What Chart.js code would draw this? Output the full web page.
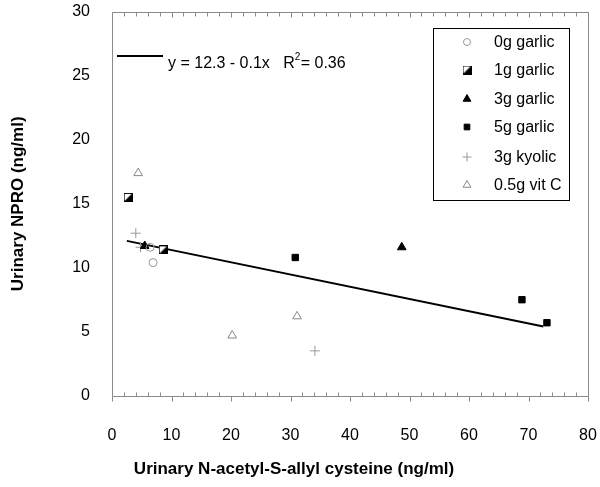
<!DOCTYPE html>
<html>
<head>
<meta charset="utf-8">
<script src="https://cdn.jsdelivr.net/npm/chart.js@4/dist/chart.umd.min.js"></script>
<style>
html,body{margin:0;padding:0;background:#fff;}
#wrap{width:600px;height:487px;position:relative;}
</style>
</head>
<body>
<div id="wrap"><canvas id="c" width="600" height="487"></canvas></div>
<script>
// ---- data ----
const seriesNames = ["0g garlic", "1g garlic", "3g garlic", "5g garlic", "3g kyolic", "0.5g vit C"];
const garlic0 = [[6.4, 11.6], [6.9, 10.4]];
const garlic1 = [[2.7, 15.5], [8.6, 11.4]];
const garlic3 = [[5.5, 11.7], [48.7, 11.6]];
const garlic5 = [[30.8, 10.8], [68.9, 7.5], [73.1, 5.7]];
const kyolic3 = [[4.0, 12.7], [4.8, 11.6], [34.1, 3.5]];
const vitC05 = [[4.4, 17.4], [20.2, 4.7], [31.1, 6.2]];
const fitLine = [[2.5, 12.1], [72.5, 5.4]];
const xTicks = [0, 10, 20, 30, 40, 50, 60, 70, 80];
const yTicks = [0, 5, 10, 15, 20, 25, 30];
const fitLabel = "y = 12.3 - 0.1x   R";
const fitLabel2 = "= 0.36";
const xTitle = "Urinary N-acetyl-S-allyl cysteine (ng/ml)";
const yTitle = "Urinary NPRO (ng/ml)";

const toPts = a => a.map(p => ({x: p[0], y: p[1]}));

// half-filled square marker
function halfSquare(size) {
  const c = document.createElement('canvas');
  c.width = size; c.height = size;
  const g = c.getContext('2d');
  g.fillStyle = '#fff';
  g.fillRect(0, 0, size, size);
  g.fillStyle = '#000';
  g.beginPath();
  g.moveTo(size, 0); g.lineTo(size, size); g.lineTo(0, size); g.closePath(); g.fill();
  g.strokeStyle = '#000'; g.lineWidth = 1;
  g.strokeRect(0.5, 0.5, size - 1, size - 1);
  return c;
}
const halfImg = halfSquare(9);

const styles = [
  {pointStyle: 'circle', radius: 4, bg: 'rgba(0,0,0,0)', border: '#999', bw: 1},
  {pointStyle: halfImg, radius: 4.5, bg: '#000', border: '#000', bw: 1},
  {pointStyle: 'triangle', radius: 5, bg: '#000', border: '#000', bw: 1},
  {pointStyle: 'rect', radius: 4.5, bg: '#000', border: '#000', bw: 1},
  {pointStyle: 'cross', radius: 5, bg: '#999', border: '#999', bw: 1},
  {pointStyle: 'triangle', radius: 5, bg: 'rgba(0,0,0,0)', border: '#888', bw: 1}
];
const allData = [garlic0, garlic1, garlic3, garlic5, kyolic3, vitC05];

const datasets = [{
  type: 'line',
  label: 'fit',
  data: toPts(fitLine),
  borderColor: '#000',
  borderWidth: 2,
  pointRadius: 0,
  fill: false,
  order: 10
}];
allData.forEach((d, i) => {
  const s = styles[i];
  datasets.push({
    type: 'scatter',
    label: seriesNames[i],
    data: toPts(d),
    pointStyle: s.pointStyle,
    pointRadius: s.radius,
    pointHoverRadius: s.radius,
    backgroundColor: s.bg,
    borderColor: s.border,
    borderWidth: s.bw,
    order: i
  });
});

const FONT = '"Liberation Sans", Arial, sans-serif';

const framePlugin = {
  id: 'frame',
  afterDraw(chart) {
    const ctx = chart.ctx;
    const xs = chart.scales.x;
    const a = chart.chartArea;
    ctx.save();
    ctx.strokeStyle = '#8a8a8a';
    ctx.lineWidth = 1;
    ctx.beginPath();
    const L = Math.round(a.left) + 0.5, R = Math.round(a.right) + 0.5;
    const T = Math.round(a.top) + 0.5, B = Math.round(a.bottom) + 0.5;
    ctx.moveTo(L, T); ctx.lineTo(R, T); ctx.lineTo(R, B); ctx.lineTo(L, B); ctx.closePath();
    for (let v = 0; v <= 80; v += 2) {
      const px = Math.round(xs.getPixelForValue(v)) + 0.5;
      if (v % 10 === 0) {
        ctx.moveTo(px, B); ctx.lineTo(px, B + 5);
        ctx.moveTo(px, T); ctx.lineTo(px, T + 5);
      } else {
        ctx.moveTo(px, B); ctx.lineTo(px, B - 4);
        ctx.moveTo(px, T); ctx.lineTo(px, T + 4);
      }
    }
    ctx.stroke();

    // y axis title (centred on plot area)
    ctx.fillStyle = '#000';
    ctx.font = 'bold 17px ' + FONT;
    ctx.textAlign = 'center';
    ctx.textBaseline = 'middle';
    ctx.save();
    ctx.translate(18, (a.top + a.bottom) / 2);
    ctx.rotate(-Math.PI / 2);
    ctx.fillText(yTitle, 0, 0);
    ctx.restore();

    // regression legend
    ctx.strokeStyle = '#000';
    ctx.lineWidth = 2;
    ctx.beginPath();
    ctx.moveTo(117, 56); ctx.lineTo(163, 56);
    ctx.stroke();
    ctx.fillStyle = '#000';
    ctx.font = '16px ' + FONT;
    ctx.textBaseline = 'alphabetic';
    ctx.textAlign = 'left';
    ctx.fillText(fitLabel, 168, 68);
    let w = ctx.measureText(fitLabel).width;
    ctx.font = '10px ' + FONT;
    ctx.fillText('2', 168 + w, 60);
    ctx.font = '16px ' + FONT;
    ctx.fillText(fitLabel2, 168 + w + 6, 68);

    // series legend box
    ctx.lineWidth = 1;
    ctx.strokeStyle = '#000';
    ctx.strokeRect(433.5, 28.5, 136, 172);
    const rows = [42, 70, 99, 127, 157, 185];
    ctx.font = '16px ' + FONT;
    ctx.textBaseline = 'middle';
    for (let i = 0; i < seriesNames.length; i++) {
      const s = styles[i];
      const ds = chart.data.datasets[i + 1];
      ctx.fillStyle = s.bg; ctx.strokeStyle = s.border; ctx.lineWidth = s.bw;
      Chart.helpers.drawPoint(ctx, {pointStyle: s.pointStyle, radius: s.radius - 0.5, borderWidth: s.bw, rotation: 0}, 467, rows[i]);
      ctx.fillStyle = '#000';
      ctx.fillText(ds.label, 494, rows[i] + 1);
    }
    ctx.restore();
  }
};

new Chart(document.getElementById('c'), {
  data: {datasets},
  options: {
    responsive: false,
    animation: false,
    events: [],
    layout: {padding: {left: 0, right: 12, top: 12, bottom: 0}},
    plugins: {
      legend: {display: false},
      tooltip: {enabled: false},
      title: {display: true, position: 'bottom', text: xTitle, color: '#000',
              font: {family: FONT, size: 17, weight: 'bold', lineHeight: 1.2},
              padding: {top: 0, bottom: 7}}
    },
    scales: {
      x: {
        type: 'linear',
        min: 0, max: 80,
        afterBuildTicks: s => { s.ticks = xTicks.map(v => ({value: v})); },
        afterFit: s => { s.height = 64; s.paddingLeft = 0; s.paddingRight = 0; },
        grid: {display: false},
        border: {display: false},
        ticks: {color: '#000', font: {family: FONT, size: 16}, padding: 22, maxRotation: 0}
      },
      y: {
        type: 'linear',
        min: 0, max: 30,
        afterBuildTicks: s => { s.ticks = yTicks.map(v => ({value: v})); },
        afterFit: s => { s.width = 112; s.paddingTop = 0; s.paddingBottom = 0; },
        grid: {display: false},
        border: {display: false},
        ticks: {color: '#000', font: {family: FONT, size: 16}, padding: 14}
      }
    }
  },
  plugins: [framePlugin]
});
</script>
</body>
</html>
